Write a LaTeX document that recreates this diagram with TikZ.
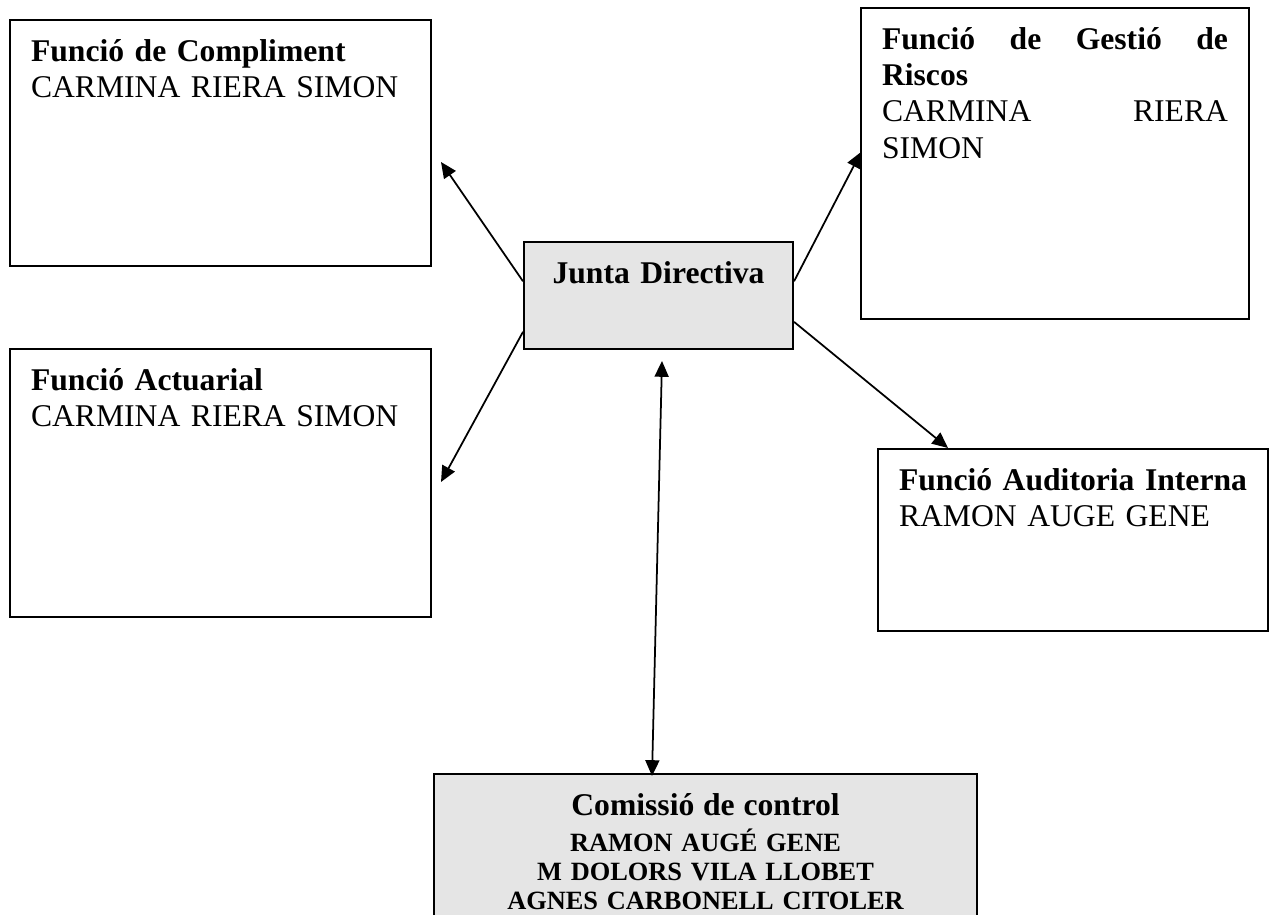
\documentclass[tikz,border=0pt]{standalone}
\usepackage{fontspec}
\setmainfont{Liberation Serif}
\usepackage{xcolor}
\usepackage{tikz}
\usetikzlibrary{arrows.meta}

\definecolor{boardgray}{gray}{0.9}

\begin{document}
\begin{tikzpicture}[x=0.02cm, y=-0.02cm,
	orgbox/.style={draw, line width=1.2pt, anchor=north west, inner xsep=0.42cm, inner ysep=0.37cm, text height=0.45cm, font=\fontsize{18}{20.7}\selectfont},
	leftbox/.style={orgbox, align=left},
	midbox/.style={orgbox, align=center, fill=boardgray},
	link/.style={line width=1pt, -{Triangle[length=9pt, width=8pt]}},
	bilink/.style={line width=1pt, {Triangle[length=9pt, width=8pt]}-{Triangle[length=9pt, width=8pt]}}
	]
	\useasboundingbox (0,0) rectangle (1274,915);
	
	% functions on the left
	\node[leftbox, text width=7.58cm, text depth=3.73cm] (compliment) at (9,19) {\textbf{Funció de Compliment}\\CARMINA RIERA SIMON};
	\node[leftbox, text width=7.58cm, text depth=4.17cm] (actuarial) at (9,348) {\textbf{Funció Actuarial}\\CARMINA RIERA SIMON};
	
	% functions on the right
	\node[leftbox, text width=6.92cm, text depth=5.03cm] (riscos) at (860,7) {\textbf{Funció \hfill de \hfill Gestió \hfill de}\\\textbf{Riscos}\\CARMINA \hfill RIERA\\SIMON};
	\node[leftbox, text width=6.96cm, text depth=2.45cm] (auditoria) at (877,448) {\textbf{Funció Auditoria Interna}\\RAMON AUGE GENE};
	
	% board and control committee
	\node[midbox, text width=4.54cm, text depth=0.95cm] (junta) at (523,241) {\textbf{Junta Directiva}};
	\node[midbox, text width=10.02cm, text depth=2.4cm, font=\fontsize{15}{16.3}\selectfont\bfseries] (comissio) at (433,773) {{\fontsize{18}{20.7}\selectfont Comissió de control}\\[4.7pt]RAMON AUGÉ GENE\\M DOLORS VILA LLOBET\\AGNES CARBONELL CITOLER};
	
	\coordinate (complTip) at (441,162);
	\coordinate (actuTip) at (441,482);
	\coordinate (riscTip) at (861,152);
	\coordinate (auditTip) at (948,448);
	\coordinate (ctrlTop) at (662,361);
	\coordinate (ctrlBot) at (652,776);
	
	\draw[link] (junta.174) -- (complTip);
	\draw[link] (junta.195) -- (actuTip);
	\draw[link] (junta.6) -- (riscTip);
	\draw[link] (junta.349) -- (auditTip);
	\draw[bilink] (ctrlTop) -- (ctrlBot);
\end{tikzpicture}
\end{document}
